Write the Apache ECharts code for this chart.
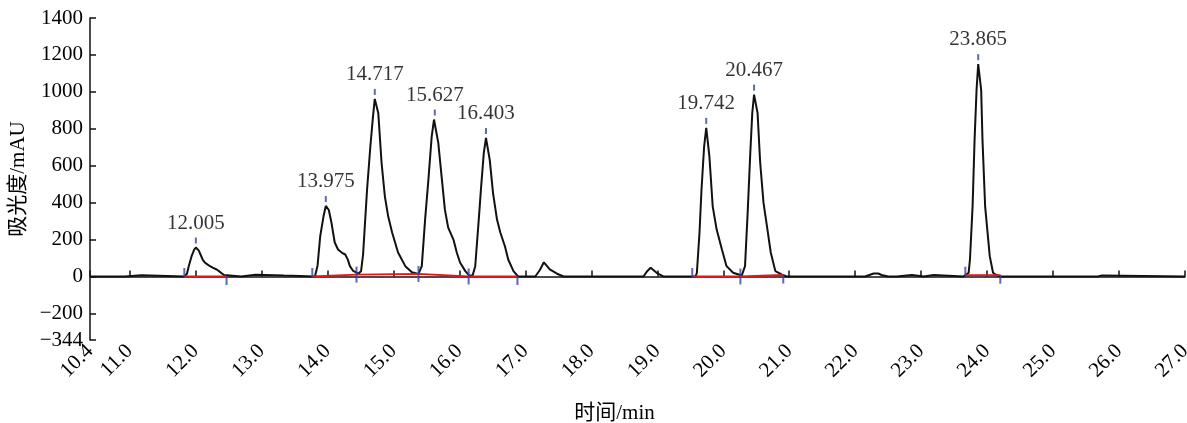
<!DOCTYPE html>
<html><head><meta charset="utf-8">
<script src="https://cdn.jsdelivr.net/npm/echarts@6/dist/echarts.min.js"></script>
<style>html,body{margin:0;padding:0;background:#fff}#c{width:1187px;height:423px}</style>
</head><body><div id="c"></div><script>
// chromatogram trace (time in min, absorbance in mAU)
const times = [10.40,10.93,10.95,11.18,11.20,11.83,11.87,11.90,11.94,11.98,12.005,12.05,12.08,12.11,12.14,12.20,12.26,12.32,12.38,12.43,12.46,
  12.69,12.71,12.91,12.94,13.34,13.36,13.81,13.85,13.89,13.94,13.975,14.02,14.06,14.11,14.16,14.22,14.27,14.31,14.34,14.39,14.42,14.47,
  14.51,14.54,14.60,14.65,14.69,14.717,14.77,14.82,14.87,14.92,14.98,15.07,15.18,15.28,15.38,15.43,15.48,15.53,15.58,15.615,15.635,15.68,
  15.73,15.78,15.83,15.91,15.96,16.01,16.09,16.15,16.20,16.24,16.29,16.33,16.37,16.403,16.46,16.51,16.57,16.62,16.69,16.74,16.82,16.89,
  17.15,17.22,17.28,17.32,17.37,17.48,17.58,18.79,18.85,18.90,18.94,18.99,19.09,19.58,19.60,19.64,19.67,19.71,19.742,19.79,19.84,19.90,
  19.98,20.05,20.15,20.28,20.33,20.37,20.41,20.44,20.467,20.52,20.56,20.61,20.67,20.72,20.79,20.89,20.96,22.15,22.18,22.28,22.35,22.40,
  22.50,22.63,22.65,22.86,22.88,23.04,23.06,23.19,23.21,23.64,23.66,23.72,23.74,23.78,23.81,23.84,23.865,23.885,23.91,23.93,23.97,24.04,
  24.09,24.14,24.20,25.68,25.70,25.74,25.76,27.0];
const absorbance = [0,0,7,7,0,0,15,60,110,145,157,140,115,90,76,60,48,38,22,8,0,
  0,10,10,5,5,0,0,60,218,326,382,360,292,184,146,128,119,90,56,30,20,15,
  30,120,470,704,866,962,886,616,434,326,238,130,56,23,14,56,308,524,758,850,850,724,
  542,362,265,200,130,76,29,5,5,56,292,488,670,750,632,452,308,238,164,92,29,0,
  0,35,77,60,38,15,0,0,30,47,35,20,0,0,20,238,470,704,805,650,380,254,
  146,56,20,5,56,346,670,886,985,886,616,400,254,130,29,10,0,0,8,16,16,8,
  0,0,8,8,0,0,8,8,0,0,10,20,92,380,740,1010,1150,1140,1010,740,380,110,
  20,8,0,0,6,6,0,0];

// labelled peaks
const peakTimes = [12.005,13.975,14.717,15.627,16.403,19.742,20.467,23.865];
const peakHeights = [157,382,962,850,750,805,985,1150];
const peakLabels = ['12.005','13.975','14.717','15.627','16.403','19.742','20.467','23.865'];

// integration baselines (red)
const base1T = [11.83,12.47], base1V = [0,0];
const base2T = [13.77,14.44,15.38,16.14,16.88], base2V = [0,10,14,0,0];
const base3T = [19.53,20.26,20.91], base3V = [0,0,8];
const base4T = [23.67,24.20], base4V = [7,7];

// integration markers (blue)
const startMarkT = [11.83,13.77,19.53,23.67], startMarkV = [0,0,0,7];
const endMarkT = [12.47,16.88,20.91,24.20], endMarkV = [0,0,8,7];
const splitMarkT = [14.44,15.38,16.14,20.26], splitMarkV = [10,14,0,0];

// axis ticks
const xTicks = [10.4,11,12,13,14,15,16,17,18,19,20,21,22,23,24,25,26,27];
const yTicks = [-344,-200,0,200,400,600,800,1000,1200,1400];

const zip = (a, b) => a.map((t, i) => [t, b[i]]);
const serif = '"Liberation Serif","Times New Roman",serif';
const cjk = '"Liberation Serif","Noto Sans CJK SC",serif';
const blue = '#34449c', red = '#e8141c', ink = '#000';

const markSeries = (name, T, V, size, offset) => ({
  name, type: 'scatter', data: zip(T, V), symbol: 'rect', symbolSize: size, symbolOffset: offset,
  itemStyle: {color: blue}, z: 5, silent: true
});

const chart = echarts.init(document.getElementById('c'), null, {renderer: 'canvas'});
chart.setOption({
  animation: false,
  grid: {left: 90, right: 2, top: 18, bottom: 83, containLabel: false, outerBoundsMode: 'none'},
  xAxis: {
    type: 'value', min: 10.4, max: 27,
    name: '时间/min', nameLocation: 'middle', nameGap: 63,
    nameTextStyle: {fontFamily: cjk, fontSize: 21, color: ink, padding: [0, 46, 0, 0]},
    axisLine: {show: true, lineStyle: {color: '#111', width: 1.5}},
    axisTick: {show: true, inside: true, length: 6, customValues: xTicks, lineStyle: {color: '#111', width: 1.5}},
    axisLabel: {customValues: xTicks, rotate: 45, fontFamily: serif, fontSize: 21, color: ink, margin: 8,
      formatter: v => v.toFixed(1)},
    splitLine: {show: false}
  },
  yAxis: {
    type: 'value', min: -344, max: 1400,
    name: '吸光度/mAU', nameLocation: 'middle', nameGap: 55, nameRotate: 90,
    nameTextStyle: {fontFamily: cjk, fontSize: 21, color: ink},
    axisLine: {show: true, lineStyle: {color: '#111', width: 1.5}},
    axisTick: {show: true, inside: true, length: 6, customValues: yTicks, lineStyle: {color: '#111', width: 1.5}},
    axisLabel: {customValues: yTicks, fontFamily: serif, fontSize: 21, color: ink, margin: 7,
      formatter: v => (v < 0 ? '\u2212' + Math.abs(v) : String(v))},
    splitLine: {show: false}
  },
  series: [
    {name: 'trace', type: 'line', data: zip(times, absorbance), showSymbol: false, symbol: 'none',
      lineStyle: {color: '#111', width: 2}, z: 2, silent: true},
    {type: 'line', data: zip(base1T, base1V), symbol: 'none', lineStyle: {color: red, width: 1.8}, z: 3, silent: true},
    {type: 'line', data: zip(base2T, base2V), symbol: 'none', lineStyle: {color: red, width: 1.8}, z: 3, silent: true},
    {type: 'line', data: zip(base3T, base3V), symbol: 'none', lineStyle: {color: red, width: 1.8}, z: 3, silent: true},
    {type: 'line', data: zip(base4T, base4V), symbol: 'none', lineStyle: {color: red, width: 1.8}, z: 3, silent: true},
    markSeries('start', startMarkT, startMarkV, [2, 9], [0, -4]),
    markSeries('end', endMarkT, endMarkV, [2, 9], [0, 4]),
    markSeries('split', splitMarkT, splitMarkV, [2, 16], [0, 0]),
    {name: 'peaks', type: 'scatter', data: zip(peakTimes, peakHeights), symbol: 'rect', symbolSize: [2, 6],
      symbolOffset: [0, -7], itemStyle: {color: blue}, z: 5, silent: true,
      label: {show: true, position: 'top', distance: 4, formatter: p => peakLabels[p.dataIndex],
        fontFamily: serif, fontSize: 21, color: ink}}
  ]
});
</script></body></html>
